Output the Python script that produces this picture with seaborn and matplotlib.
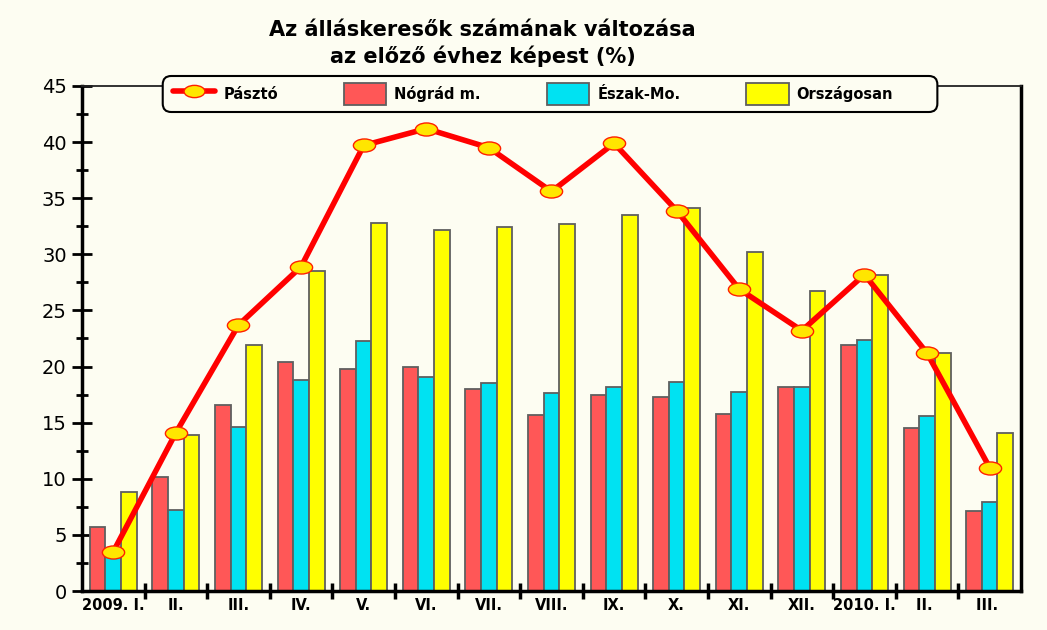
import numpy as np
import pandas as pd
import seaborn as sns
import matplotlib.pyplot as plt
from matplotlib.lines import Line2D
from matplotlib.patches import Patch, FancyBboxPatch
from matplotlib.path import Path
from matplotlib.transforms import Affine2D
from matplotlib.ticker import MultipleLocator, FixedLocator

# Adatok
idoszak = ["2009. I.", "II.", "III.", "IV.", "V.", "VI.", "VII.", "VIII.",
           "IX.", "X.", "XI.", "XII.", "2010. I.", "II. ", "III. "]
nograd = [5.7, 10.2, 16.6, 20.4, 19.8, 20.0, 18.0, 15.7, 17.5, 17.3, 15.8, 18.2, 21.9, 14.5, 7.1]
eszak = [3.3, 7.2, 14.6, 18.8, 22.3, 19.1, 18.5, 17.6, 18.2, 18.6, 17.7, 18.2, 22.4, 15.6, 7.9]
orszagos = [8.8, 13.9, 21.9, 28.5, 32.8, 32.2, 32.4, 32.7, 33.5, 34.1, 30.2, 26.7, 28.2, 21.2, 14.1]
paszto = [3.5, 14.1, 23.7, 28.9, 39.7, 41.2, 39.5, 35.6, 39.9, 33.9, 26.9, 23.2, 28.2, 21.2, 11.0]

sorozatok = ["Nógrád m.", "Észak-Mo.", "Országosan"]
szinek = {"Nógrád m.": "#FF5757", "Észak-Mo.": "#00E2F2", "Országosan": "#FFFF00"}

df = pd.DataFrame({
    "idoszak": idoszak * 3,
    "sorozat": [s for s in sorozatok for _ in idoszak],
    "ertek": nograd + eszak + orszagos,
})

hatter = "#FDFDF2"
sns.set_style("white")
plt.rcParams["font.family"] = ["DejaVu Sans"]
plt.rcParams["text.color"] = "black"
plt.rcParams["xtick.color"] = "black"
plt.rcParams["ytick.color"] = "black"

fig = plt.figure(figsize=(10.47, 6.30), dpi=100, facecolor=hatter)
ax = fig.add_axes([0.0783, 0.0619, 0.8968, 0.8016])
ax.set_facecolor(hatter)

sns.barplot(data=df, x="idoszak", y="ertek", hue="sorozat", order=idoszak,
            hue_order=sorozatok, palette=szinek, saturation=1, width=0.75,
            edgecolor="#5F5F5F", linewidth=1.3, legend=False, ax=ax, zorder=2)

# Pásztó vonal, ellipszis jelölőkkel
ellipszis = Path.unit_circle().transformed(Affine2D().scale(1.7, 1.0))
x = np.arange(len(idoszak))
ax.plot(x, paszto, color="#FF0000", linewidth=4, marker=ellipszis, markersize=16,
        markerfacecolor="#FFE600", markeredgecolor="#FF2000", markeredgewidth=1, zorder=3)

ax.set_xlim(-0.5, len(idoszak) - 0.5)
ax.set_ylim(0, 45)
ax.set_xlabel("")
ax.set_ylabel("")

# tengelyek
for side in ["left", "right", "bottom"]:
    ax.spines[side].set_linewidth(2.5)
    ax.spines[side].set_color("black")
ax.spines["top"].set_linewidth(1.3)
ax.spines["top"].set_color("#222222")

ax.yaxis.set_major_locator(MultipleLocator(5))
ax.yaxis.set_minor_locator(MultipleLocator(2.5))
ax.tick_params(axis="y", which="major", direction="inout", length=14, width=2,
               labelsize=14, pad=4, left=True, right=False)
ax.tick_params(axis="y", which="minor", direction="inout", length=9, width=2, left=True, right=False)

ax.xaxis.set_minor_locator(FixedLocator(np.arange(0.5, len(idoszak) - 1, 1)))
ax.tick_params(axis="x", which="major", length=0, labelsize=10.5, pad=5)
ax.tick_params(axis="x", which="minor", direction="inout", length=12, width=2.5, bottom=True)
for lab in ax.get_xticklabels():
    lab.set_fontweight("bold")

# jelmagyarázat: lekerekített keret külön, a tartalom belül
keret = FancyBboxPatch((0.086, 0.9485), 0.825, 0.0713, transform=ax.transAxes,
                       boxstyle="round,pad=0,rounding_size=0.009", mutation_aspect=939 / 505,
                       facecolor=hatter, edgecolor="black", linewidth=1.5,
                       clip_on=False, zorder=9)
ax.add_patch(keret)

kezelok = [Line2D([0], [0], color="#FF0000", linewidth=4, marker=ellipszis, markersize=15,
                  markerfacecolor="#FFE600", markeredgecolor="#FF2000", markeredgewidth=1)]
kezelok += [Patch(facecolor=szinek[s], edgecolor="#5F5F5F", linewidth=1.3) for s in sorozatok]
leg = ax.legend(kezelok, ["Pásztó"] + sorozatok, ncol=4, loc="center left",
                bbox_to_anchor=(0.097, 0.9485, 0.767, 0.0713), mode="expand",
                borderaxespad=0, frameon=False, handlelength=2.9, handleheight=1.9,
                prop={"weight": "bold", "size": 10.5}, columnspacing=2.5, handletextpad=0.55,
                borderpad=0)
leg.set_zorder(10)
leg.set_clip_on(False)

fig.text(0.461, 0.968, "Az álláskeresők számának változása\naz előző évhez képest (%)",
         ha="center", va="top", fontsize=15, fontweight="bold", linespacing=1.3)

plt.savefig("out.png", dpi=100, facecolor=hatter)
plt.close()
